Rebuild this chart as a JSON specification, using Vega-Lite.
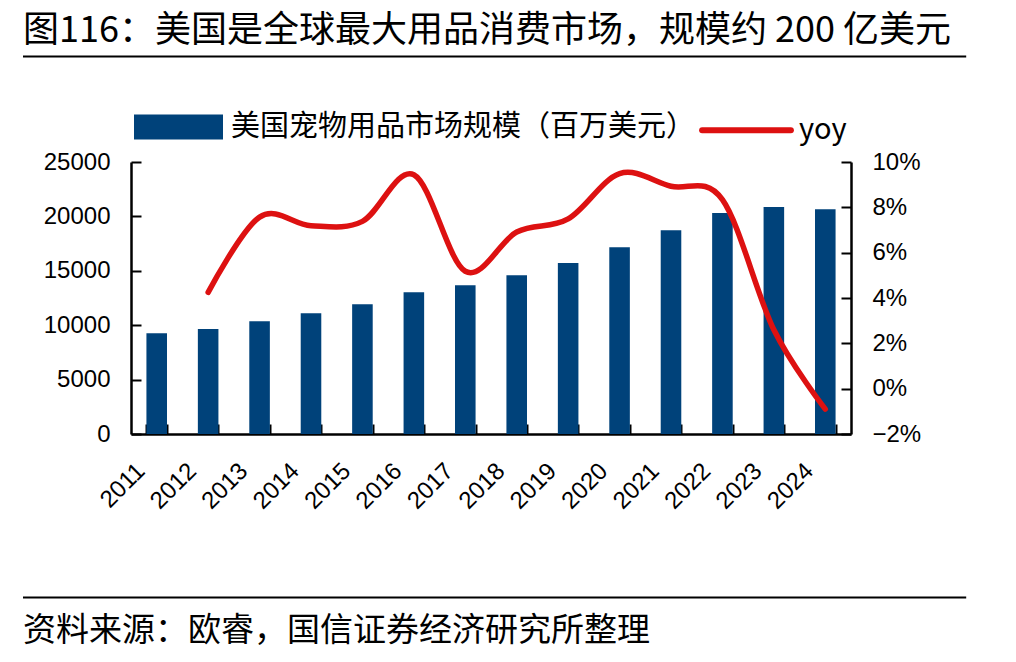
{
  "$schema": "https://vega.github.io/schema/vega-lite/v6.json",
  "width": 720,
  "height": 272,
  "padding": {"left": 22, "top": 13, "right": 10, "bottom": 10},
  "background": "white",
  "config": {"view": {"stroke": null}, "font": "Noto Sans CJK SC"},
  "title": {
    "text": "图116：美国是全球最大用品消费市场，规模约 200 亿美元",
    "anchor": "start",
    "frame": "group",
    "dx": -108,
    "offset": 5,
    "fontSize": 36,
    "fontWeight": "normal",
    "font": "Noto Sans CJK SC",
    "color": "#000000"
  },
  "data": {
    "values": [
      {"year": 2011, "value": 9255, "yoy": null},
      {"year": 2012, "value": 9650, "yoy": 0.0425},
      {"year": 2013, "value": 10358, "yoy": 0.0757},
      {"year": 2014, "value": 11093, "yoy": 0.0719},
      {"year": 2015, "value": 11920, "yoy": 0.0738},
      {"year": 2016, "value": 13024, "yoy": 0.0944},
      {"year": 2017, "value": 13667, "yoy": 0.0518},
      {"year": 2018, "value": 14586, "yoy": 0.0691},
      {"year": 2019, "value": 15717, "yoy": 0.0749},
      {"year": 2020, "value": 17160, "yoy": 0.0949},
      {"year": 2021, "value": 18722, "yoy": 0.0893},
      {"year": 2022, "value": 20312, "yoy": 0.0834},
      {"year": 2023, "value": 20864, "yoy": 0.026},
      {"year": 2024, "value": 20650, "yoy": -0.009}
    ]
  },
  "layer": [
    {
      "mark": {"type": "bar"},
      "encoding": {
        "x": {
          "field": "year",
          "type": "ordinal",
          "scale": {"type": "band", "domain": [2011, 2012, 2013, 2014, 2015, 2016, 2017, 2018, 2019, 2020, 2021, 2022, 2023, 2024], "paddingInner": 0.6, "paddingOuter": 0.3},
          "axis": {
            "title": null,
            "labelAngle": -45,
            "labelAlign": "right",
            "labelBaseline": "middle",
            "labelFont": "Liberation Sans",
            "labelFontSize": 24,
            "labelColor": "#000000",
            "labelOffset": -16,
            "labelPadding": 43,
            "tickBand": "extent",
            "tickSize": -10,
            "tickWidth": 2,
            "tickColor": "#000000",
            "domainColor": "#000000",
            "domainWidth": 2.5
          }
        },
        "y": {
          "field": "value",
          "type": "quantitative",
          "scale": {"domain": [0, 25000], "nice": false},
          "axis": {
            "title": null,
            "values": [0, 5000, 10000, 15000, 20000, 25000],
            "format": "d",
            "grid": false,
            "labelFont": "Liberation Sans",
            "labelFontSize": 24,
            "labelColor": "#000000",
            "labelPadding": 31,
            "tickSize": -10,
            "tickWidth": 2,
            "tickColor": "#000000",
            "domainColor": "#000000",
            "domainWidth": 2.5
          }
        },
        "color": {
          "datum": "美国宠物用品市场规模（百万美元）",
          "type": "nominal",
          "scale": {"domain": ["美国宠物用品市场规模（百万美元）", "yoy"], "range": ["#00427a", "#dd1111"]},
          "legend": {
            "orient": "none",
            "legendX": 3,
            "legendY": -80,
            "direction": "horizontal",
            "title": null,
            "symbolSize": 6889,
            "labelFont": "Noto Sans CJK SC",
            "labelFontSize": 29,
            "labelColor": "#000000",
            "labelLimit": 1000,
            "labelOffset": 8,
            "columnPadding": -6,
            "encode": {
              "symbols": {
                "update": {
                  "shape": {"signal": "datum.value === 'yoy' ? 'M-1.07,0H1.07' : 'M-1,-0.23H1V0.23H-1Z'"},
                  "fill": {"signal": "datum.value === 'yoy' ? 'transparent' : '#00427a'"},
                  "stroke": {"signal": "datum.value === 'yoy' ? '#dd1111' : 'transparent'"},
                  "strokeWidth": {"value": 6},
                  "strokeCap": {"value": "round"},
                  "opacity": {"value": 1}
                }
              }
            }
          }
        }
      }
    },
    {
      "transform": [{"filter": "datum.yoy != null"}],
      "mark": {"type": "line", "interpolate": "cardinal", "tension": 0, "strokeWidth": 5.5, "strokeCap": "round"},
      "encoding": {
        "x": {
          "field": "year",
          "type": "ordinal",
          "scale": {"type": "band", "domain": [2011, 2012, 2013, 2014, 2015, 2016, 2017, 2018, 2019, 2020, 2021, 2022, 2023, 2024], "paddingInner": 0.6, "paddingOuter": 0.3},
          "axis": null
        },
        "y": {
          "field": "yoy",
          "type": "quantitative",
          "scale": {"domain": [-0.02, 0.1], "nice": false},
          "axis": {
            "orient": "right",
            "title": null,
            "values": [-0.02, 0, 0.02, 0.04, 0.06, 0.08, 0.1],
            "format": ".0%",
            "grid": false,
            "labelFont": "Liberation Sans",
            "labelFontSize": 24,
            "labelColor": "#000000",
            "labelPadding": 31,
            "tickSize": -10,
            "tickWidth": 2,
            "tickColor": "#000000",
            "domainColor": "#000000",
            "domainWidth": 2.5
          }
        },
        "color": {"datum": "yoy", "type": "nominal"}
      }
    },
    {
      "data": {"values": [{}]},
      "mark": {"type": "rule", "color": "#000000", "strokeWidth": 2},
      "encoding": {
        "x": {"datum": -0.15, "type": "quantitative", "scale": {"domain": [0, 1], "nice": false, "zero": false}, "axis": null},
        "x2": {"datum": 1.16},
        "y": {"datum": 1.388, "type": "quantitative", "scale": {"domain": [0, 1], "nice": false, "zero": false}, "axis": null}
      }
    },
    {
      "data": {"values": [{}]},
      "mark": {"type": "rule", "color": "#000000", "strokeWidth": 2},
      "encoding": {
        "x": {"datum": -0.15, "type": "quantitative", "scale": {"domain": [0, 1], "nice": false, "zero": false}, "axis": null},
        "x2": {"datum": 1.16},
        "y": {"datum": -0.601, "type": "quantitative", "scale": {"domain": [0, 1], "nice": false, "zero": false}, "axis": null}
      }
    },
    {
      "data": {"values": [{}]},
      "mark": {"type": "text", "align": "left", "baseline": "middle", "fontSize": 33, "font": "Noto Sans CJK SC", "color": "#000000"},
      "encoding": {
        "x": {"datum": -0.15, "type": "quantitative", "scale": {"domain": [0, 1], "nice": false, "zero": false}, "axis": null},
        "y": {"datum": -0.724, "type": "quantitative", "scale": {"domain": [0, 1], "nice": false, "zero": false}, "axis": null},
        "text": {"value": "资料来源：欧睿，国信证券经济研究所整理"}
      }
    }
  ],
  "resolve": {"scale": {"x": "independent", "y": "independent"}}
}
